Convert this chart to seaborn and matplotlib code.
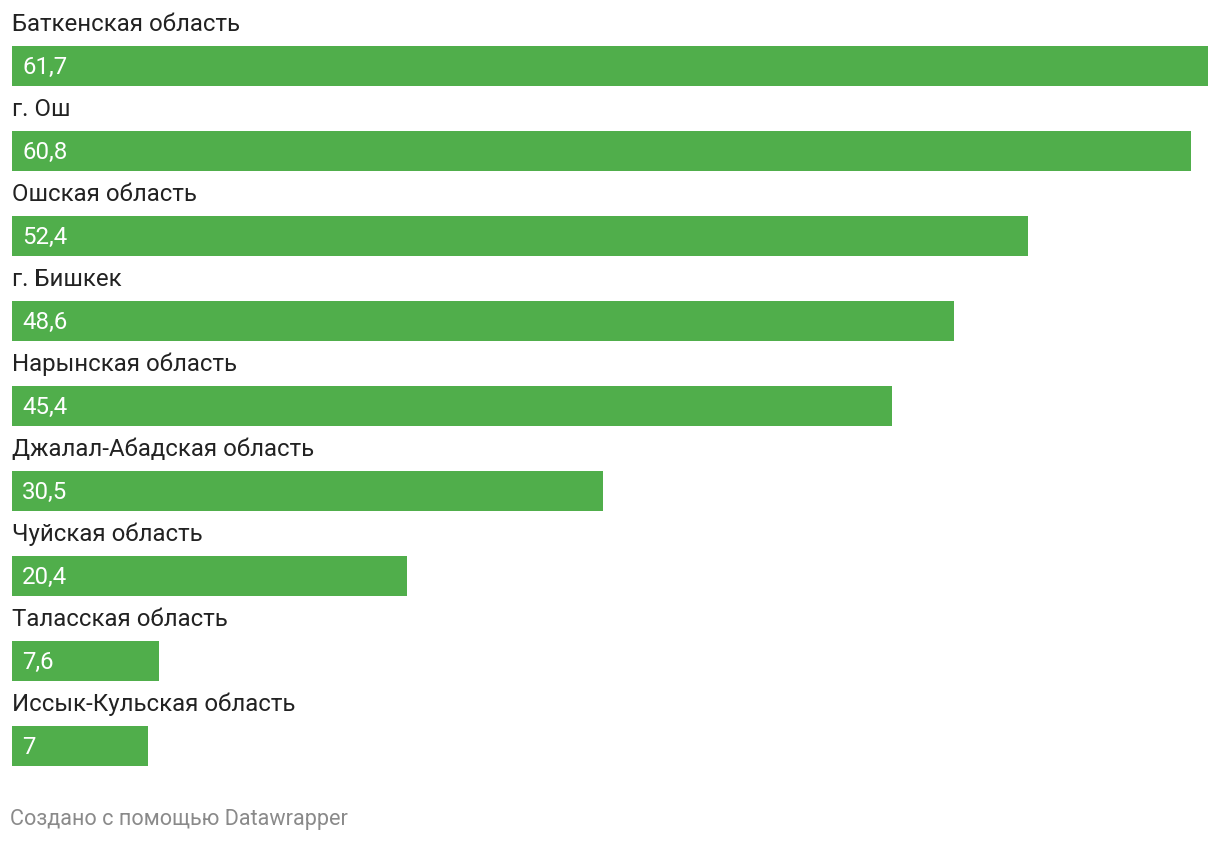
import matplotlib
matplotlib.use("Agg")
import matplotlib.pyplot as plt
import seaborn as sns
import pandas as pd

regions = [
    "Баткенская область",
    "г. Ош",
    "Ошская область",
    "г. Бишкек",
    "Нарынская область",
    "Джалал-Абадская область",
    "Чуйская область",
    "Таласская область",
    "Иссык-Кульская область",
]
values = [61.7, 60.8, 52.4, 48.6, 45.4, 30.5, 20.4, 7.6, 7.0]

df = pd.DataFrame({"region": regions, "value": values})

sns.set_theme(style="white")
plt.rcParams["font.family"] = ["Roboto", "DejaVu Sans"]

fig = plt.figure(figsize=(12.2, 8.42), dpi=100)
ax = fig.add_axes([12 / 1220, 0, 1196 / 1220, 1])

sns.barplot(data=df, x="value", y="region", orient="h", color="#50ae4b",
            saturation=1, width=40 / 85, linewidth=0, ax=ax)

ax.set_xlim(0, max(values))
ax.set_ylim((842 - 66) / 85, -66 / 85)
ax.axis("off")

for i, (name, v) in enumerate(zip(regions, values)):
    ax.text(0, i - 0.49, name, ha="left", va="center", fontsize=17.3,
            color="#222222")
    label = f"{v:g}".replace(".", ",")
    ax.text(10 / 1196 * max(values), i + 0.02, label, ha="left", va="center",
            fontsize=17.3, color="white")

fig.text(10 / 1220, 1 - 819 / 842, "Создано с помощью Datawrapper",
         ha="left", va="center", fontsize=15.6, color="#8a8a8a")

fig.savefig("out.png", dpi=100)
